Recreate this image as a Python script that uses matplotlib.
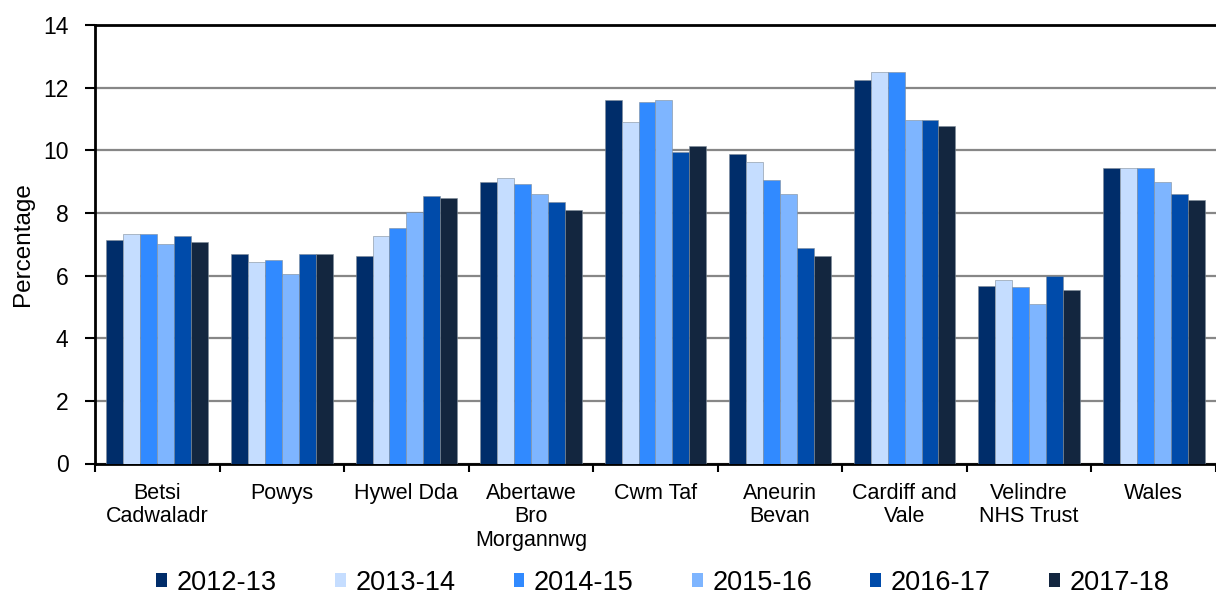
import matplotlib
matplotlib.use("Agg")
import matplotlib.pyplot as plt
import numpy as np
from matplotlib.patches import Patch

plt.rcParams['font.family'] = ['Liberation Sans', 'DejaVu Sans']

categories = ["Betsi\nCadwaladr", "Powys", "Hywel Dda", "Abertawe\nBro\nMorgannwg",
              "Cwm Taf", "Aneurin\nBevan", "Cardiff and\nVale", "Velindre\nNHS Trust", "Wales"]
years = ["2012-13", "2013-14", "2014-15", "2015-16", "2016-17", "2017-18"]

v2012_13 = [7.15, 6.70, 6.63, 8.99, 11.61, 9.88, 12.24, 5.68, 9.43]
v2013_14 = [7.33, 6.43, 7.27, 9.11, 10.90, 9.62, 12.50, 5.87, 9.43]
v2014_15 = [7.33, 6.51, 7.52, 8.92, 11.53, 9.04, 12.50, 5.63, 9.43]
v2015_16 = [7.02, 6.06, 8.04, 8.60, 11.61, 8.60, 10.97, 5.10, 8.99]
v2016_17 = [7.27, 6.70, 8.54, 8.35, 9.95, 6.88, 10.97, 6.00, 8.60]
v2017_18 = [7.08, 6.70, 8.49, 8.09, 10.14, 6.63, 10.78, 5.55, 8.41]

series = [v2012_13, v2013_14, v2014_15, v2015_16, v2016_17, v2017_18]
colors = ["#002D6A", "#C5DDFF", "#318AFF", "#7EB5FF", "#004BAA", "#13263F"]

fig = plt.figure(figsize=(12.16, 5.96), dpi=100)
ax = fig.add_axes([95/1216, 1-463.5/596, 1121/1216, 438.5/596])

x = np.arange(len(categories))
bw = 0.136
for i, (vals, c, lab) in enumerate(zip(series, colors, years)):
    ax.bar(x + (i - 2.5) * bw, vals, width=bw, color=c, label=lab,
           edgecolor="#7f8c99", linewidth=0.4, zorder=3)

ax.set_ylim(0, 14)
ax.set_xlim(-0.5, 8.418)
ax.set_yticks(np.arange(0, 15, 2))
ax.yaxis.grid(True, color="#878787", linewidth=1.6, zorder=0)
ax.set_axisbelow(True)

ax.set_xticks(x)
ax.set_xticklabels(categories, fontsize=15.5, linespacing=1.15)
ax.set_xticks(np.arange(-0.5, 9, 1), minor=True)
ax.tick_params(axis='x', which='major', length=0, pad=14)
ax.tick_params(axis='x', which='minor', length=6, width=1.5, direction='out')
ax.tick_params(axis='y', labelsize=16.5, length=7, width=1.5, pad=12)

for s in ["left", "bottom", "top"]:
    ax.spines[s].set_linewidth(2)
    ax.spines[s].set_color("black")
ax.spines["right"].set_visible(False)

ax.set_ylabel("Percentage", fontsize=17.5)
ax.yaxis.set_label_coords(-0.054, 0.5)

handles = [Patch(facecolor=c, edgecolor='none') for c in colors]
leg = fig.legend(handles, years, loc="center", bbox_to_anchor=(0.545, 1-583/596), ncol=6,
                 frameon=False, fontsize=19.5, handlelength=0.4, handleheight=0.4,
                 handletextpad=0.35, columnspacing=2.15)

fig.savefig("out.png", dpi=100)
